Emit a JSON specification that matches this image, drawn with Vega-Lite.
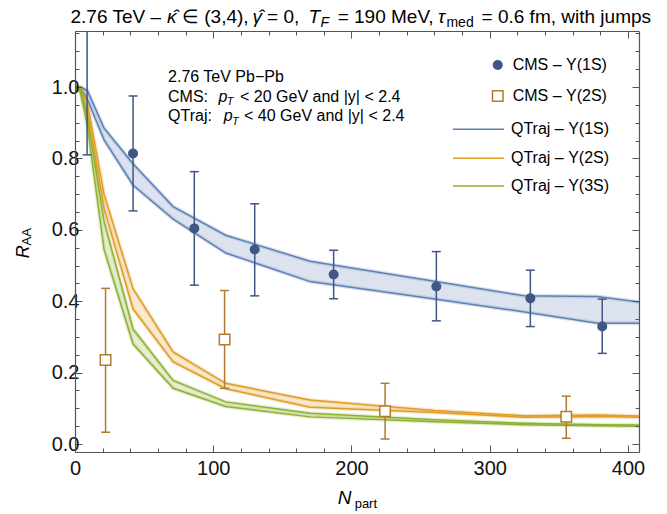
{
  "$schema": "https://vega.github.io/schema/vega-lite/v6.json",
  "width": 564,
  "height": 421,
  "autosize": {"type": "none"},
  "padding": {"left": 75, "top": 31, "right": 28, "bottom": 62},
  "background": "white",
  "config": {"view": {"stroke": null}, "font": "Liberation Sans"},
  "resolve": {"axis": {"x": "independent", "y": "independent"}},
  "datasets": {
    "bands": [
      {"m": "1S", "x": 0, "lo": 1.0, "hi": 1.0},
      {"m": "1S", "x": 4, "lo": 0.998, "hi": 1.0},
      {"m": "1S", "x": 9, "lo": 0.965, "hi": 0.99},
      {"m": "1S", "x": 21, "lo": 0.852, "hi": 0.885},
      {"m": "1S", "x": 42, "lo": 0.725, "hi": 0.785},
      {"m": "1S", "x": 71, "lo": 0.63, "hi": 0.665},
      {"m": "1S", "x": 109, "lo": 0.535, "hi": 0.585},
      {"m": "1S", "x": 170, "lo": 0.455, "hi": 0.512},
      {"m": "1S", "x": 260, "lo": 0.406, "hi": 0.456},
      {"m": "1S", "x": 325, "lo": 0.37, "hi": 0.415},
      {"m": "1S", "x": 378, "lo": 0.338, "hi": 0.413},
      {"m": "1S", "x": 410, "lo": 0.338, "hi": 0.397},
      {"m": "2S", "x": 0, "lo": 1.0, "hi": 1.0},
      {"m": "2S", "x": 4, "lo": 0.99, "hi": 1.0},
      {"m": "2S", "x": 9, "lo": 0.93, "hi": 0.955},
      {"m": "2S", "x": 21, "lo": 0.66, "hi": 0.7},
      {"m": "2S", "x": 42, "lo": 0.378, "hi": 0.435},
      {"m": "2S", "x": 71, "lo": 0.23, "hi": 0.258},
      {"m": "2S", "x": 109, "lo": 0.155, "hi": 0.17},
      {"m": "2S", "x": 170, "lo": 0.103, "hi": 0.123},
      {"m": "2S", "x": 260, "lo": 0.088, "hi": 0.094},
      {"m": "2S", "x": 325, "lo": 0.075, "hi": 0.079},
      {"m": "2S", "x": 378, "lo": 0.077, "hi": 0.081},
      {"m": "2S", "x": 410, "lo": 0.075, "hi": 0.078},
      {"m": "3S", "x": 0, "lo": 1.0, "hi": 1.0},
      {"m": "3S", "x": 4, "lo": 0.985, "hi": 0.995},
      {"m": "3S", "x": 9, "lo": 0.89, "hi": 0.915},
      {"m": "3S", "x": 21, "lo": 0.545, "hi": 0.625},
      {"m": "3S", "x": 42, "lo": 0.28, "hi": 0.322},
      {"m": "3S", "x": 71, "lo": 0.156, "hi": 0.178},
      {"m": "3S", "x": 109, "lo": 0.105, "hi": 0.118},
      {"m": "3S", "x": 170, "lo": 0.076, "hi": 0.086},
      {"m": "3S", "x": 260, "lo": 0.062, "hi": 0.068},
      {"m": "3S", "x": 325, "lo": 0.054, "hi": 0.058},
      {"m": "3S", "x": 378, "lo": 0.051, "hi": 0.054},
      {"m": "3S", "x": 410, "lo": 0.05, "hi": 0.053}
    ],
    "cms1": [
      {"x": 8.75, "y": 1.2, "lo": 0.81, "hi": 1.59},
      {"x": 42.0, "y": 0.814, "lo": 0.653, "hi": 0.975},
      {"x": 86.3, "y": 0.604, "lo": 0.445, "hi": 0.763},
      {"x": 130.0, "y": 0.545, "lo": 0.415, "hi": 0.673},
      {"x": 187.1, "y": 0.475, "lo": 0.407, "hi": 0.543},
      {"x": 261.4, "y": 0.441, "lo": 0.345, "hi": 0.539},
      {"x": 329.4, "y": 0.408, "lo": 0.329, "hi": 0.487},
      {"x": 381.4, "y": 0.329, "lo": 0.254, "hi": 0.406}
    ],
    "cms2": [
      {"x": 22.1, "y": 0.235, "lo": 0.033, "hi": 0.436},
      {"x": 108.2, "y": 0.293, "lo": 0.156, "hi": 0.43},
      {"x": 224.3, "y": 0.092, "lo": 0.014, "hi": 0.17},
      {"x": 355.4, "y": 0.0765, "lo": 0.016, "hi": 0.134}
    ]
  },
  "layer": [
    {
      "data": {"values": [{"x": 0, "y": 0}]},
      "mark": {"type": "point", "opacity": 0},
      "encoding": {
        "x": {"field": "x", "type": "quantitative", "scale": {"domain": [0, 408], "nice": false, "zero": false},
          "axis": {"orient": "bottom", "values": [0, 100, 200, 300, 400], "tickSize": -7, "tickColor": "#555", "tickWidth": 1, "domainColor": "#555", "domainWidth": 1.2, "labelFont": "Liberation Sans", "labelFontSize": 20, "labelColor": "#111", "labelPadding": 13, "labelFlush": false, "labelOverlap": false, "grid": false, "title": null, "zindex": 2}},
        "y": {"field": "y", "type": "quantitative", "scale": {"domain": [-0.0224, 1.157], "nice": false, "zero": false},
          "axis": {"orient": "left", "values": [0, 0.2, 0.4, 0.6, 0.8, 1.0], "format": ".1f", "tickSize": -7, "tickColor": "#555", "tickWidth": 1, "domainColor": "#555", "domainWidth": 1.2, "labelFont": "Liberation Sans", "labelFontSize": 20, "labelColor": "#111", "labelPadding": 3, "labelFlush": false, "labelOverlap": false, "grid": false, "title": null, "zindex": 2}}
      }
    },
    {
      "data": {"values": [{"x": 0, "y": 0}]},
      "mark": {"type": "point", "opacity": 0},
      "encoding": {
        "x": {"field": "x", "type": "quantitative", "scale": {"domain": [0, 408], "nice": false, "zero": false},
          "axis": {"orient": "bottom", "values": [20, 40, 60, 80, 120, 140, 160, 180, 220, 240, 260, 280, 320, 340, 360, 380], "tickSize": -4, "tickColor": "#555", "tickWidth": 1, "domain": false, "labels": false, "grid": false, "title": null, "zindex": 2}},
        "y": {"field": "y", "type": "quantitative", "scale": {"domain": [-0.0224, 1.157], "nice": false, "zero": false},
          "axis": {"orient": "left", "values": [0.05, 0.1, 0.15, 0.25, 0.3, 0.35, 0.45, 0.5, 0.55, 0.65, 0.7, 0.75, 0.85, 0.9, 0.95, 1.05, 1.1, 1.15], "tickSize": -4, "tickColor": "#555", "tickWidth": 1, "domain": false, "labels": false, "grid": false, "title": null, "zindex": 2}}
      }
    },
    {
      "data": {"values": [{"x": 0, "y": 0}]},
      "mark": {"type": "point", "opacity": 0},
      "encoding": {
        "x": {"field": "x", "type": "quantitative", "scale": {"domain": [0, 408], "nice": false, "zero": false},
          "axis": {"orient": "top", "values": [0, 100, 200, 300, 400], "tickSize": -7, "tickColor": "#555", "tickWidth": 1, "domainColor": "#555", "domainWidth": 1.2, "labels": false, "grid": false, "title": null, "zindex": 2}},
        "y": {"field": "y", "type": "quantitative", "scale": {"domain": [-0.0224, 1.157], "nice": false, "zero": false},
          "axis": {"orient": "right", "values": [0, 0.2, 0.4, 0.6, 0.8, 1.0], "tickSize": -7, "tickColor": "#555", "tickWidth": 1, "domainColor": "#555", "domainWidth": 1.2, "labels": false, "grid": false, "title": null, "zindex": 2}}
      }
    },
    {
      "data": {"values": [{"x": 0, "y": 0}]},
      "mark": {"type": "point", "opacity": 0},
      "encoding": {
        "x": {"field": "x", "type": "quantitative", "scale": {"domain": [0, 408], "nice": false, "zero": false},
          "axis": {"orient": "top", "values": [20, 40, 60, 80, 120, 140, 160, 180, 220, 240, 260, 280, 320, 340, 360, 380], "tickSize": -4, "tickColor": "#555", "tickWidth": 1, "domain": false, "labels": false, "grid": false, "title": null, "zindex": 2}},
        "y": {"field": "y", "type": "quantitative", "scale": {"domain": [-0.0224, 1.157], "nice": false, "zero": false},
          "axis": {"orient": "right", "values": [0.05, 0.1, 0.15, 0.25, 0.3, 0.35, 0.45, 0.5, 0.55, 0.65, 0.7, 0.75, 0.85, 0.9, 0.95, 1.05, 1.1, 1.15], "tickSize": -4, "tickColor": "#555", "tickWidth": 1, "domain": false, "labels": false, "grid": false, "title": null, "zindex": 2}}
      }
    },
    {
      "data": {"name": "bands"},
      "mark": {"type": "area", "opacity": 0.22, "clip": true},
      "encoding": {
        "x": {"field": "x", "type": "quantitative", "scale": {"domain": [0, 408], "nice": false, "zero": false}, "axis": null},
        "y": {"field": "lo", "type": "quantitative", "scale": {"domain": [-0.0224, 1.157], "nice": false, "zero": false}, "axis": null},
        "y2": {"field": "hi"},
        "color": {"field": "m", "type": "nominal", "scale": {"domain": ["1S", "2S", "3S"], "range": ["#5E81B5", "#E19C24", "#8FB032"]}, "legend": null}
      }
    },
    {
      "data": {"name": "bands"},
      "transform": [{"fold": ["lo", "hi"], "as": ["k", "v"]}],
      "mark": {"type": "line", "strokeWidth": 4, "opacity": 0.22, "clip": true},
      "encoding": {
        "x": {"field": "x", "type": "quantitative", "scale": {"domain": [0, 408], "nice": false, "zero": false}, "axis": null},
        "y": {"field": "v", "type": "quantitative", "scale": {"domain": [-0.0224, 1.157], "nice": false, "zero": false}, "axis": null},
        "color": {"field": "m", "type": "nominal", "scale": {"domain": ["1S", "2S", "3S"], "range": ["#5E81B5", "#E19C24", "#8FB032"]}, "legend": null},
        "detail": {"field": "k"}
      }
    },
    {
      "data": {"name": "bands"},
      "transform": [{"fold": ["lo", "hi"], "as": ["k", "v"]}],
      "mark": {"type": "line", "strokeWidth": 1.5, "clip": true},
      "encoding": {
        "x": {"field": "x", "type": "quantitative", "scale": {"domain": [0, 408], "nice": false, "zero": false}, "axis": null},
        "y": {"field": "v", "type": "quantitative", "scale": {"domain": [-0.0224, 1.157], "nice": false, "zero": false}, "axis": null},
        "color": {"field": "m", "type": "nominal", "scale": {"domain": ["1S", "2S", "3S"], "range": ["#5E81B5", "#E19C24", "#8FB032"]}, "legend": null},
        "detail": {"field": "k"}
      }
    },
    {
      "data": {"name": "cms2"},
      "mark": {"type": "rule", "strokeWidth": 1.5, "color": "#B07B2E", "clip": true},
      "encoding": {
        "x": {"field": "x", "type": "quantitative", "scale": {"domain": [0, 408], "nice": false, "zero": false}, "axis": null},
        "y": {"field": "lo", "type": "quantitative", "scale": {"domain": [-0.0224, 1.157], "nice": false, "zero": false}, "axis": null},
        "y2": {"field": "hi"}
      }
    },
    {
      "data": {"name": "cms2"},
      "transform": [{"fold": ["lo", "hi"], "as": ["k", "v"]}],
      "mark": {"type": "tick", "orient": "horizontal", "size": 9, "thickness": 1.5, "color": "#B07B2E", "opacity": 1, "clip": true},
      "encoding": {
        "x": {"field": "x", "type": "quantitative", "scale": {"domain": [0, 408], "nice": false, "zero": false}, "axis": null},
        "y": {"field": "v", "type": "quantitative", "scale": {"domain": [-0.0224, 1.157], "nice": false, "zero": false}, "axis": null}
      }
    },
    {
      "data": {"name": "cms2"},
      "mark": {"type": "point", "shape": "square", "size": 110, "filled": false, "fill": "white", "fillOpacity": 1, "stroke": "#B07B2E", "strokeWidth": 1.5, "opacity": 1, "clip": true},
      "encoding": {
        "x": {"field": "x", "type": "quantitative", "scale": {"domain": [0, 408], "nice": false, "zero": false}, "axis": null},
        "y": {"field": "y", "type": "quantitative", "scale": {"domain": [-0.0224, 1.157], "nice": false, "zero": false}, "axis": null}
      }
    },
    {
      "data": {"name": "cms1"},
      "mark": {"type": "rule", "strokeWidth": 1.5, "color": "#3E5783", "clip": true},
      "encoding": {
        "x": {"field": "x", "type": "quantitative", "scale": {"domain": [0, 408], "nice": false, "zero": false}, "axis": null},
        "y": {"field": "lo", "type": "quantitative", "scale": {"domain": [-0.0224, 1.157], "nice": false, "zero": false}, "axis": null},
        "y2": {"field": "hi"}
      }
    },
    {
      "data": {"name": "cms1"},
      "transform": [{"fold": ["lo", "hi"], "as": ["k", "v"]}],
      "mark": {"type": "tick", "orient": "horizontal", "size": 9, "thickness": 1.5, "color": "#3E5783", "opacity": 1, "clip": true},
      "encoding": {
        "x": {"field": "x", "type": "quantitative", "scale": {"domain": [0, 408], "nice": false, "zero": false}, "axis": null},
        "y": {"field": "v", "type": "quantitative", "scale": {"domain": [-0.0224, 1.157], "nice": false, "zero": false}, "axis": null}
      }
    },
    {
      "data": {"name": "cms1"},
      "mark": {"type": "point", "shape": "circle", "size": 100, "filled": true, "color": "#3E5783", "opacity": 1, "clip": true},
      "encoding": {
        "x": {"field": "x", "type": "quantitative", "scale": {"domain": [0, 408], "nice": false, "zero": false}, "axis": null},
        "y": {"field": "y", "type": "quantitative", "scale": {"domain": [-0.0224, 1.157], "nice": false, "zero": false}, "axis": null}
      }
    },
    {
      "data": {"values": [{"t": "2.76 TeV –"}]},
      "mark": {"type": "text", "align": "left", "baseline": "alphabetic", "font": "Liberation Sans", "fontSize": 19, "color": "#000"},
      "encoding": {"x": {"datum": -3.26, "type": "quantitative", "axis": null}, "y": {"datum": 1.1794, "type": "quantitative", "axis": null}, "text": {"field": "t"}}
    },
    {
      "data": {"values": [{"t": "κ̂"}]},
      "mark": {"type": "text", "align": "left", "baseline": "alphabetic", "font": "Liberation Sans", "fontSize": 19, "fontStyle": "italic", "color": "#000"},
      "encoding": {"x": {"datum": 66.6, "type": "quantitative", "axis": null}, "y": {"datum": 1.1794, "type": "quantitative", "axis": null}, "text": {"field": "t"}}
    },
    {
      "data": {"values": [{"t": "∈ (3,4),"}]},
      "mark": {"type": "text", "align": "left", "baseline": "alphabetic", "font": "Liberation Sans", "fontSize": 19, "color": "#000"},
      "encoding": {"x": {"datum": 77.4, "type": "quantitative", "axis": null}, "y": {"datum": 1.1794, "type": "quantitative", "axis": null}, "text": {"field": "t"}}
    },
    {
      "data": {"values": [{"t": "γ̂"}]},
      "mark": {"type": "text", "align": "left", "baseline": "alphabetic", "font": "Liberation Sans", "fontSize": 19, "fontStyle": "italic", "color": "#000"},
      "encoding": {"x": {"datum": 128.4, "type": "quantitative", "axis": null}, "y": {"datum": 1.1794, "type": "quantitative", "axis": null}, "text": {"field": "t"}}
    },
    {
      "data": {"values": [{"t": "= 0,"}]},
      "mark": {"type": "text", "align": "left", "baseline": "alphabetic", "font": "Liberation Sans", "fontSize": 19, "color": "#000"},
      "encoding": {"x": {"datum": 138.9, "type": "quantitative", "axis": null}, "y": {"datum": 1.1794, "type": "quantitative", "axis": null}, "text": {"field": "t"}}
    },
    {
      "data": {"values": [{"t": "T"}]},
      "mark": {"type": "text", "align": "left", "baseline": "alphabetic", "font": "Liberation Sans", "fontSize": 19, "fontStyle": "italic", "color": "#000"},
      "encoding": {"x": {"datum": 168.9, "type": "quantitative", "axis": null}, "y": {"datum": 1.1794, "type": "quantitative", "axis": null}, "text": {"field": "t"}}
    },
    {
      "data": {"values": [{"t": "F"}]},
      "mark": {"type": "text", "align": "left", "baseline": "alphabetic", "font": "Liberation Sans", "fontSize": 14, "fontStyle": "italic", "color": "#000"},
      "encoding": {"x": {"datum": 177.6, "type": "quantitative", "axis": null}, "y": {"datum": 1.1682, "type": "quantitative", "axis": null}, "text": {"field": "t"}}
    },
    {
      "data": {"values": [{"t": "= 190 MeV,"}]},
      "mark": {"type": "text", "align": "left", "baseline": "alphabetic", "font": "Liberation Sans", "fontSize": 19, "color": "#000"},
      "encoding": {"x": {"datum": 190.0, "type": "quantitative", "axis": null}, "y": {"datum": 1.1794, "type": "quantitative", "axis": null}, "text": {"field": "t"}}
    },
    {
      "data": {"values": [{"t": "τ"}]},
      "mark": {"type": "text", "align": "left", "baseline": "alphabetic", "font": "Liberation Sans", "fontSize": 19, "fontStyle": "italic", "color": "#000"},
      "encoding": {"x": {"datum": 262.6, "type": "quantitative", "axis": null}, "y": {"datum": 1.1794, "type": "quantitative", "axis": null}, "text": {"field": "t"}}
    },
    {
      "data": {"values": [{"t": "med"}]},
      "mark": {"type": "text", "align": "left", "baseline": "alphabetic", "font": "Liberation Sans", "fontSize": 14, "color": "#000"},
      "encoding": {"x": {"datum": 268.7, "type": "quantitative", "axis": null}, "y": {"datum": 1.1682, "type": "quantitative", "axis": null}, "text": {"field": "t"}}
    },
    {
      "data": {"values": [{"t": "= 0.6 fm, with jumps"}]},
      "mark": {"type": "text", "align": "left", "baseline": "alphabetic", "font": "Liberation Sans", "fontSize": 19, "color": "#000"},
      "encoding": {"x": {"datum": 294.1, "type": "quantitative", "axis": null}, "y": {"datum": 1.1794, "type": "quantitative", "axis": null}, "text": {"field": "t"}}
    },
    {
      "data": {"values": [{"t": "2.76 TeV Pb−Pb"}]},
      "mark": {"type": "text", "align": "left", "baseline": "alphabetic", "font": "Liberation Sans", "fontSize": 16, "color": "#000"},
      "encoding": {"x": {"datum": 67.3, "type": "quantitative", "axis": null}, "y": {"datum": 1.015, "type": "quantitative", "axis": null}, "text": {"field": "t"}}
    },
    {
      "data": {"values": [{"t": "CMS:"}]},
      "mark": {"type": "text", "align": "left", "baseline": "alphabetic", "font": "Liberation Sans", "fontSize": 16, "color": "#000"},
      "encoding": {"x": {"datum": 67.3, "type": "quantitative", "axis": null}, "y": {"datum": 0.959, "type": "quantitative", "axis": null}, "text": {"field": "t"}}
    },
    {
      "data": {"values": [{"t": "p"}]},
      "mark": {"type": "text", "align": "left", "baseline": "alphabetic", "font": "Liberation Sans", "fontSize": 16, "fontStyle": "italic", "color": "#000"},
      "encoding": {"x": {"datum": 103.8, "type": "quantitative", "axis": null}, "y": {"datum": 0.959, "type": "quantitative", "axis": null}, "text": {"field": "t"}}
    },
    {
      "data": {"values": [{"t": "T"}]},
      "mark": {"type": "text", "align": "left", "baseline": "alphabetic", "font": "Liberation Sans", "fontSize": 11, "fontStyle": "italic", "color": "#000"},
      "encoding": {"x": {"datum": 109.7, "type": "quantitative", "axis": null}, "y": {"datum": 0.95, "type": "quantitative", "axis": null}, "text": {"field": "t"}}
    },
    {
      "data": {"values": [{"t": "< 20 GeV and |y| < 2.4"}]},
      "mark": {"type": "text", "align": "left", "baseline": "alphabetic", "font": "Liberation Sans", "fontSize": 16, "color": "#000"},
      "encoding": {"x": {"datum": 119.4, "type": "quantitative", "axis": null}, "y": {"datum": 0.959, "type": "quantitative", "axis": null}, "text": {"field": "t"}}
    },
    {
      "data": {"values": [{"t": "QTraj:"}]},
      "mark": {"type": "text", "align": "left", "baseline": "alphabetic", "font": "Liberation Sans", "fontSize": 16, "color": "#000"},
      "encoding": {"x": {"datum": 67.3, "type": "quantitative", "axis": null}, "y": {"datum": 0.906, "type": "quantitative", "axis": null}, "text": {"field": "t"}}
    },
    {
      "data": {"values": [{"t": "p"}]},
      "mark": {"type": "text", "align": "left", "baseline": "alphabetic", "font": "Liberation Sans", "fontSize": 16, "fontStyle": "italic", "color": "#000"},
      "encoding": {"x": {"datum": 107.6, "type": "quantitative", "axis": null}, "y": {"datum": 0.906, "type": "quantitative", "axis": null}, "text": {"field": "t"}}
    },
    {
      "data": {"values": [{"t": "T"}]},
      "mark": {"type": "text", "align": "left", "baseline": "alphabetic", "font": "Liberation Sans", "fontSize": 11, "fontStyle": "italic", "color": "#000"},
      "encoding": {"x": {"datum": 113.5, "type": "quantitative", "axis": null}, "y": {"datum": 0.895, "type": "quantitative", "axis": null}, "text": {"field": "t"}}
    },
    {
      "data": {"values": [{"t": "< 40 GeV and |y| < 2.4"}]},
      "mark": {"type": "text", "align": "left", "baseline": "alphabetic", "font": "Liberation Sans", "fontSize": 16, "color": "#000"},
      "encoding": {"x": {"datum": 122.3, "type": "quantitative", "axis": null}, "y": {"datum": 0.906, "type": "quantitative", "axis": null}, "text": {"field": "t"}}
    },
    {
      "data": {"values": [{"s": "CMS1"}]},
      "mark": {"type": "point", "shape": "circle", "size": 100, "filled": true, "color": "#3E5783", "opacity": 1},
      "encoding": {"x": {"datum": 305.8, "type": "quantitative", "axis": null}, "y": {"datum": 1.0618, "type": "quantitative", "axis": null}}
    },
    {
      "data": {"values": [{"s": "CMS2"}]},
      "mark": {"type": "point", "shape": "square", "size": 110, "filled": false, "fill": "white", "fillOpacity": 1, "stroke": "#B07B2E", "strokeWidth": 1.5, "opacity": 1},
      "encoding": {"x": {"datum": 305.8, "type": "quantitative", "axis": null}, "y": {"datum": 0.975, "type": "quantitative", "axis": null}}
    },
    {
      "data": {"values": [{"t": "CMS – Υ(1S)"}]},
      "mark": {"type": "text", "align": "left", "baseline": "middle", "font": "Liberation Sans", "fontSize": 16, "color": "#000"},
      "encoding": {"x": {"datum": 316.6, "type": "quantitative", "axis": null}, "y": {"datum": 1.0618, "type": "quantitative", "axis": null}, "text": {"field": "t"}}
    },
    {
      "data": {"values": [{"t": "CMS – Υ(2S)"}]},
      "mark": {"type": "text", "align": "left", "baseline": "middle", "font": "Liberation Sans", "fontSize": 16, "color": "#000"},
      "encoding": {"x": {"datum": 316.6, "type": "quantitative", "axis": null}, "y": {"datum": 0.975, "type": "quantitative", "axis": null}, "text": {"field": "t"}}
    },
    {
      "data": {"values": [{"s": "Q1"}]},
      "mark": {"type": "rule", "strokeWidth": 1.5, "color": "#5E81B5"},
      "encoding": {"x": {"datum": 273.4, "type": "quantitative", "axis": null}, "x2": {"datum": 310.3}, "y": {"datum": 0.8817, "type": "quantitative", "axis": null}}
    },
    {
      "data": {"values": [{"s": "Q2"}]},
      "mark": {"type": "rule", "strokeWidth": 1.5, "color": "#E19C24"},
      "encoding": {"x": {"datum": 273.4, "type": "quantitative", "axis": null}, "x2": {"datum": 310.3}, "y": {"datum": 0.8004, "type": "quantitative", "axis": null}}
    },
    {
      "data": {"values": [{"s": "Q3"}]},
      "mark": {"type": "rule", "strokeWidth": 1.5, "color": "#8FB032"},
      "encoding": {"x": {"datum": 273.4, "type": "quantitative", "axis": null}, "x2": {"datum": 310.3}, "y": {"datum": 0.7228, "type": "quantitative", "axis": null}}
    },
    {
      "data": {"values": [{"t": "QTraj – Υ(1S)"}]},
      "mark": {"type": "text", "align": "left", "baseline": "middle", "font": "Liberation Sans", "fontSize": 16, "color": "#000"},
      "encoding": {"x": {"datum": 315.4, "type": "quantitative", "axis": null}, "y": {"datum": 0.8817, "type": "quantitative", "axis": null}, "text": {"field": "t"}}
    },
    {
      "data": {"values": [{"t": "QTraj – Υ(2S)"}]},
      "mark": {"type": "text", "align": "left", "baseline": "middle", "font": "Liberation Sans", "fontSize": 16, "color": "#000"},
      "encoding": {"x": {"datum": 315.4, "type": "quantitative", "axis": null}, "y": {"datum": 0.8004, "type": "quantitative", "axis": null}, "text": {"field": "t"}}
    },
    {
      "data": {"values": [{"t": "QTraj – Υ(3S)"}]},
      "mark": {"type": "text", "align": "left", "baseline": "middle", "font": "Liberation Sans", "fontSize": 16, "color": "#000"},
      "encoding": {"x": {"datum": 315.4, "type": "quantitative", "axis": null}, "y": {"datum": 0.7228, "type": "quantitative", "axis": null}, "text": {"field": "t"}}
    },
    {
      "data": {"values": [{"t": "R"}]},
      "mark": {"type": "text", "align": "left", "baseline": "alphabetic", "angle": 270, "font": "Liberation Sans", "fontSize": 18, "fontStyle": "italic", "color": "#000"},
      "encoding": {"x": {"datum": -33.6, "type": "quantitative", "axis": null}, "y": {"datum": 0.5203, "type": "quantitative", "axis": null}, "text": {"field": "t"}}
    },
    {
      "data": {"values": [{"t": "AA"}]},
      "mark": {"type": "text", "align": "left", "baseline": "alphabetic", "angle": 270, "font": "Liberation Sans", "fontSize": 13, "color": "#000"},
      "encoding": {"x": {"datum": -31.5, "type": "quantitative", "axis": null}, "y": {"datum": 0.5562, "type": "quantitative", "axis": null}, "text": {"field": "t"}}
    },
    {
      "data": {"values": [{"t": "N"}]},
      "mark": {"type": "text", "align": "left", "baseline": "alphabetic", "font": "Liberation Sans", "fontSize": 19, "fontStyle": "italic", "color": "#000"},
      "encoding": {"x": {"datum": 190.0, "type": "quantitative", "axis": null}, "y": {"datum": -0.168, "type": "quantitative", "axis": null}, "text": {"field": "t"}}
    },
    {
      "data": {"values": [{"t": "part"}]},
      "mark": {"type": "text", "align": "left", "baseline": "alphabetic", "font": "Liberation Sans", "fontSize": 13, "color": "#000"},
      "encoding": {"x": {"datum": 202.3, "type": "quantitative", "axis": null}, "y": {"datum": -0.179, "type": "quantitative", "axis": null}, "text": {"field": "t"}}
    }
  ]
}
